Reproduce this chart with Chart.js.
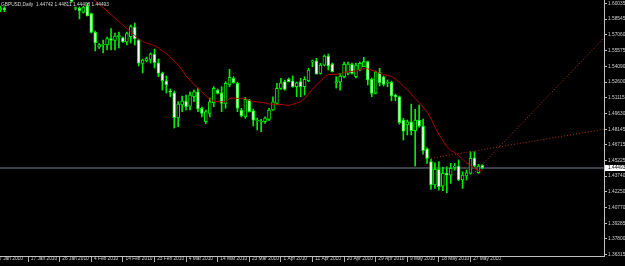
<!DOCTYPE html>
<html>
<head>
<meta charset="utf-8">
<script src="https://cdn.jsdelivr.net/npm/chart.js@4.4.0/dist/chart.umd.min.js"></script>
<style>
  html, body { margin: 0; padding: 0; background: #000; }
  #wrap { width: 625px; height: 266px; }
  canvas { background: #000; }
</style>
</head>
<body>
<div id="wrap"><canvas id="gbpChart" width="625" height="266"></canvas></div>
<script>
// GBPUSD daily bars, index 0 = 7 Jan 2010 (Sun-Fri bars), null = off screen
const open = [
  null, 1.5941, 1.5959, null, null, null, null, null, null, null,
  null, null, null, null, null, null, null, null, null, 1.6073,
  1.5955, 1.5959, 1.5917, 1.5978, 1.5908, 1.5733, 1.5591, 1.5610, 1.5610, 1.5672,
  1.5653, 1.5686, 1.5681, 1.5639, 1.5690, 1.5780, 1.5657, 1.5437, 1.5459, 1.5475,
  1.5525, 1.5443, 1.5343, 1.5273, 1.5171, 1.5160, 1.4921, 1.5044, 1.5082, 1.5034,
  1.5122, 1.5169, 1.5013, 1.4886, 1.4965, 1.5063, 1.5185, 1.5160, 1.5060, 1.5233,
  1.5296, 1.5249, 1.4997, 1.4931, 1.5091, 1.4990, 1.4893, 1.4883, 1.4886, 1.4909,
  1.4997, 1.5060, 1.5201, 1.5264, 1.5289, 1.5273, 1.5217, 1.5264, 1.5217, 1.5273,
  1.5450, 1.5462, 1.5343, 1.5421, 1.5506, 1.5431, 1.5249, 1.5261, 1.5311, 1.5343,
  1.5428, 1.5311, 1.5374, 1.5405, 1.5453, 1.5286, 1.5154, 1.5349, 1.5311, 1.5251,
  1.5258, 1.5138, 1.5122, 1.4902, 1.4855, 1.4886, 1.4801, 1.4902, 1.4846, 1.4631,
  1.4509, 1.4289, 1.4437, 1.4279, 1.4399, 1.4383, 1.4456, 1.4468, 1.4336, 1.4374,
  1.4399, 1.4546, 1.4405, 1.44742
];
const high = [
  null, 1.5978, 1.5972, null, null, null, null, null, null, null,
  null, null, null, null, null, null, null, null, null, 1.6092,
  1.5969, 1.5969, 1.5978, 1.6002, 1.5912, 1.5742, 1.5624, 1.5657, 1.5686, 1.5766,
  1.5723, 1.5733, 1.5686, 1.5733, 1.5799, 1.5818, 1.5667, 1.5478, 1.5497, 1.5535,
  1.5572, 1.5478, 1.5355, 1.5318, 1.5195, 1.5176, 1.5075, 1.5129, 1.5138, 1.5169,
  1.5185, 1.5204, 1.5025, 1.4997, 1.5110, 1.5217, 1.5195, 1.5217, 1.5264, 1.5381,
  1.5311, 1.5261, 1.5013, 1.5116, 1.5098, 1.5006, 1.4921, 1.4909, 1.4933, 1.5013,
  1.5122, 1.5249, 1.5296, 1.5280, 1.5299, 1.5318, 1.5261, 1.5296, 1.5311, 1.5390,
  1.5469, 1.5485, 1.5437, 1.5516, 1.5525, 1.5440, 1.5311, 1.5343, 1.5450, 1.5450,
  1.5440, 1.5440, 1.5450, 1.5494, 1.5459, 1.5299, 1.5365, 1.5390, 1.5318, 1.5280,
  1.5270, 1.5148, 1.5129, 1.4918, 1.4902, 1.5053, 1.5003, 1.5044, 1.4912, 1.4641,
  1.4531, 1.4499, 1.4509, 1.4456, 1.4461, 1.4493, 1.4493, 1.4525, 1.4414, 1.4430,
  1.4603, 1.4603, 1.4484, 1.44811
];
const low = [
  null, 1.5925, 1.5925, null, null, null, null, null, null, null,
  null, null, null, null, null, null, null, null, null, 1.6011,
  1.5941, 1.5856, 1.5912, 1.5884, 1.5723, 1.5554, 1.5577, 1.5535, 1.5563, 1.5563,
  1.5563, 1.5582, 1.5634, 1.5610, 1.5629, 1.5610, 1.5412, 1.5346, 1.5450, 1.5440,
  1.5393, 1.5311, 1.5185, 1.5157, 1.5122, 1.4827, 1.4839, 1.4981, 1.4997, 1.4997,
  1.5075, 1.4981, 1.4931, 1.4871, 1.4933, 1.5028, 1.5148, 1.4981, 1.5013, 1.5217,
  1.5249, 1.4981, 1.4931, 1.4918, 1.4978, 1.4846, 1.4808, 1.4792, 1.4871, 1.4896,
  1.4992, 1.5053, 1.5192, 1.5185, 1.5261, 1.5211, 1.5122, 1.5122, 1.5138, 1.5264,
  1.5405, 1.5336, 1.5336, 1.5412, 1.5374, 1.5355, 1.5204, 1.5185, 1.5299, 1.5327,
  1.5336, 1.5299, 1.5365, 1.5405, 1.5233, 1.5122, 1.5148, 1.5223, 1.5223, 1.5217,
  1.5084, 1.5084, 1.4864, 1.4713, 1.4761, 1.4761, 1.4468, 1.4836, 1.4581, 1.4493,
  1.4248, 1.4257, 1.4241, 1.4235, 1.4216, 1.4305, 1.4430, 1.4329, 1.4257, 1.4336,
  1.4392, 1.4461, 1.4399, 1.44408
];
const close = [
  null, 1.5959, 1.5941, null, null, null, null, null, null, null,
  null, null, null, null, null, null, null, null, null, 1.6021,
  1.5958, 1.5931, 1.5969, 1.5884, 1.5728, 1.5629, 1.5615, 1.5620, 1.5672, 1.5653,
  1.5695, 1.5705, 1.5639, 1.5719, 1.5785, 1.5667, 1.5440, 1.5469, 1.5483, 1.5525,
  1.5443, 1.5343, 1.5273, 1.5233, 1.5167, 1.4924, 1.5053, 1.5082, 1.5028, 1.5138,
  1.5169, 1.5006, 1.4965, 1.4981, 1.5075, 1.5201, 1.5154, 1.5060, 1.5249, 1.5305,
  1.5254, 1.5013, 1.4940, 1.5098, 1.4981, 1.4902, 1.4902, 1.4893, 1.4921, 1.4997,
  1.5075, 1.5201, 1.5254, 1.5192, 1.5264, 1.5217, 1.5254, 1.5217, 1.5286, 1.5374,
  1.5462, 1.5336, 1.5421, 1.5506, 1.5412, 1.5358, 1.5264, 1.5318, 1.5428, 1.5431,
  1.5343, 1.5421, 1.5437, 1.5453, 1.5280, 1.5154, 1.5358, 1.5254, 1.5239, 1.5256,
  1.5129, 1.5122, 1.4877, 1.4798, 1.4886, 1.4801, 1.4902, 1.4846, 1.4612, 1.4541,
  1.4289, 1.4437, 1.4273, 1.4399, 1.4383, 1.4446, 1.4468, 1.4336, 1.4383, 1.4405,
  1.4541, 1.4468, 1.4468, 1.44493
];
// moving average (red line), starts at bar 23
const maStart = 23;
const ma = [
  1.6082, 1.6054, 1.6026, 1.5997, 1.5964, 1.5931, 1.5898, 1.5865, 1.5832, 1.5799,
  1.5766, 1.5733, 1.5700, 1.5667, 1.5643, 1.5629, 1.5615, 1.5605, 1.5582, 1.5554,
  1.5530, 1.5497, 1.5459, 1.5421, 1.5374, 1.5318, 1.5280, 1.5237, 1.5204, 1.5171,
  1.5129, 1.5100, 1.5082, 1.5075, 1.5075, 1.5075, 1.5105, 1.5110, 1.5107, 1.5107,
  1.5105, 1.5086, 1.5077, 1.5074, 1.5070, 1.5063, 1.5053, 1.5051, 1.5050, 1.5049,
  1.5044, 1.5041, 1.5051, 1.5063, 1.5077, 1.5105, 1.5148, 1.5195, 1.5233, 1.5266,
  1.5308, 1.5332, 1.5334, 1.5334, 1.5335, 1.5351, 1.5360, 1.5362, 1.5365, 1.5379,
  1.5388, 1.5386, 1.5371, 1.5360, 1.5343, 1.5332, 1.5322, 1.5313, 1.5289, 1.5261,
  1.5223, 1.5190, 1.5148, 1.5105, 1.5067, 1.5025, 1.4978, 1.4916, 1.4836, 1.4765,
  1.4709, 1.4652, 1.4616, 1.4595, 1.4567, 1.4534, 1.4496, 1.4473, 1.4444, 1.4427,
  1.4421
];
// dotted trend lines: [bar index, price]
const trendA = [[110, 1.4541], [154, 1.4816]];
const trendB = [[118, 1.4289], [154, 1.5685]];

const xTickLabels = ['7 Jan 2010', '17 Jan 2010', '26 Jan 2010', '4 Feb 2010', '14 Feb 2010',
  '23 Feb 2010', '4 Mar 2010', '14 Mar 2010', '23 Mar 2010', '1 Apr 2010', '11 Apr 2010',
  '20 Apr 2010', '29 Apr 2010', '9 May 2010', '18 May 2010', '27 May 2010'];
const xTickEvery = 8;
const yTickLabels = ['1.60035', '1.58545', '1.57060', '1.55575', '1.54090', '1.52600',
  '1.51115', '1.49630', '1.48145', '1.46715', '1.45225', '1.43740', '1.42250',
  '1.40770', '1.39285', '1.37800', '1.36315'];

const xMin = 0.89, xMax = 153.8;
const yMin = 1.3619, yMax = 1.6035;
const last = close.length - 1;
const txtFont = { family: 'Liberation Sans', size: 4.8 };

const bars = open.map((v, i) => i).filter(i => open[i] !== null);
const wickData = bars.map(i => ({ x: i, y: [low[i], high[i]] }));
const bodyData = bars.map(i => ({ x: i, y: [open[i], close[i]] }));
const bodyFill = bars.map(i => close[i] > open[i] ? '#000000' : '#ffffff');
const maData = ma.map((v, k) => ({ x: maStart + k, y: v }));

// symbol/period header and current price tag
const overlay = {
  id: 'overlay',
  afterDraw(chart) {
    const { ctx, chartArea, scales } = chart;
    ctx.save();
    ctx.font = txtFont.size + 'px "' + txtFont.family + '"';
    ctx.textBaseline = 'top';
    ctx.fillStyle = '#d8d8d8';
    const title = 'GBPUSD,Daily  ' + [open[last], high[last], low[last], close[last]].map(v => v.toFixed(5)).join(' ');
    ctx.fillText(title, 1, 2);
    const yp = Math.round(scales.y.getPixelForValue(close[last]));
    ctx.fillStyle = '#ffffff';
    ctx.fillRect(chartArea.right + 1, yp - 3, 22, 6);
    ctx.fillStyle = '#000000';
    ctx.textBaseline = 'middle';
    ctx.fillText(close[last].toFixed(5), chartArea.right + 4, yp);
    ctx.restore();
  }
};

const ctx = document.getElementById('gbpChart').getContext('2d');
new Chart(ctx, {
  data: {
    datasets: [
      {
        type: 'line',
        data: [{ x: xMin, y: close[last] }, { x: xMax, y: close[last] }],
        borderColor: '#76828f',
        borderWidth: 1,
        pointRadius: 0,
        order: 5
      },
      {
        type: 'bar',
        data: wickData,
        backgroundColor: '#00ee00',
        barThickness: 1,
        grouped: false,
        order: 4
      },
      {
        type: 'bar',
        data: bodyData,
        backgroundColor: bodyFill,
        borderColor: '#00ee00',
        borderWidth: 1,
        borderSkipped: false,
        barThickness: 3,
        minBarLength: 1,
        grouped: false,
        order: 3
      },
      {
        type: 'line',
        data: maData,
        borderColor: '#b00000',
        borderWidth: 1,
        pointRadius: 0,
        tension: 0,
        order: 2
      },
      {
        type: 'line',
        data: trendA.map(p => ({ x: p[0], y: p[1] })),
        borderColor: '#b4321e',
        borderWidth: 1,
        borderDash: [1, 2],
        pointRadius: 0,
        order: 1
      },
      {
        type: 'line',
        data: trendB.map(p => ({ x: p[0], y: p[1] })),
        borderColor: '#b4321e',
        borderWidth: 1,
        borderDash: [1, 2],
        pointRadius: 0,
        order: 1
      }
    ]
  },
  options: {
    responsive: false,
    animation: false,
    devicePixelRatio: 1,
    layout: { padding: 0, autoPadding: false },
    plugins: { legend: { display: false }, tooltip: { enabled: false } },
    scales: {
      x: {
        type: 'linear',
        min: xMin,
        max: xMax,
        bounds: 'data',
        offset: false,
        grid: { offset: false, drawOnChartArea: false, tickLength: 6, color: '#b0b0b0' },
        border: { color: '#c0c0c0' },
        afterBuildTicks: s => { s.ticks = xTickLabels.map((t, k) => ({ value: k * xTickEvery })); },
        ticks: {
          autoSkip: false, maxRotation: 0, align: 'start', padding: -6,
          color: '#d0d0d0', font: txtFont,
          callback: (v, k) => '  ' + xTickLabels[k]
        },
        afterFit: s => { s.height = 10; s.paddingLeft = 0; s.paddingRight = 0; }
      },
      y: {
        type: 'linear',
        position: 'right',
        min: yMin,
        max: yMax,
        bounds: 'data',
        grid: { drawOnChartArea: false, tickLength: 3, color: '#c0c0c0' },
        border: { color: '#c0c0c0' },
        afterBuildTicks: s => { s.ticks = yTickLabels.map(t => ({ value: parseFloat(t) })); },
        ticks: {
          autoSkip: false, padding: 1, color: '#d0d0d0', font: txtFont,
          callback: (v, k) => yTickLabels[k]
        },
        afterFit: s => { s.width = 21; s.paddingTop = 0; s.paddingBottom = 0; }
      }
    }
  },
  plugins: [overlay]
});
</script>
</body>
</html>
